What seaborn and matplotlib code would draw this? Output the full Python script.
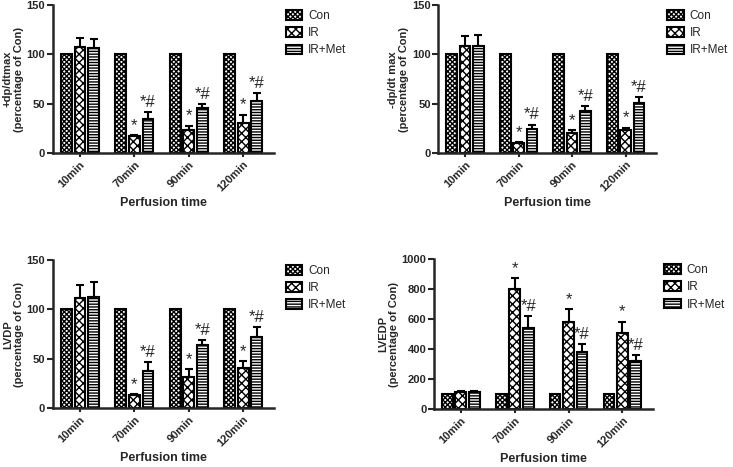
import numpy as np
import pandas as pd
import matplotlib
matplotlib.use("Agg")
import matplotlib.pyplot as plt
import matplotlib.patches as mpatches
import seaborn as sns

# data
times = ["10min", "70min", "90min", "120min"]
groups = ["Con", "IR", "IR+Met"]

dpdt_con = [100, 100, 100, 100]
dpdt_ir = [108, 17, 23, 31]
dpdt_met = [107, 34.5, 45.5, 52.5]
dpdt_ir_err = [9, 1, 5, 8]
dpdt_met_err = [8.5, 7, 4.5, 8.5]

ndpdt_con = [100, 100, 100, 100]
ndpdt_ir = [108.5, 10, 20.5, 23]
ndpdt_met = [108.5, 24, 42.5, 50.5]
ndpdt_ir_err = [10, 1, 2.5, 3]
ndpdt_met_err = [11.5, 5, 5, 6]

lvdp_con = [100, 100, 100, 100]
lvdp_ir = [112, 13.5, 32, 41]
lvdp_met = [113, 37.5, 64, 72.5]
lvdp_ir_err = [13, 1, 7.5, 6.5]
lvdp_met_err = [14.5, 9, 5, 10]

lvedp_con = [100, 100, 100, 100]
lvedp_ir = [114, 802, 584, 505]
lvedp_met = [114, 538, 378, 318]
lvedp_ir_err = [10, 72, 84, 77]
lvedp_met_err = [8, 82, 55, 44]

# significance marks (IR, IR+Met)
marks_ir = ["", "*", "*", "*"]
marks_met = ["", "*#", "*#", "*#"]

sns.set_style("ticks")
plt.rcParams["font.family"] = ["Liberation Sans", "DejaVu Sans"]
plt.rcParams["hatch.linewidth"] = 1.0

hatches = {"Con": "xxxxxxx", "IR": "xxxx", "IR+Met": "------"}

fig = plt.figure(figsize=(7.33, 4.67), dpi=100)
positions = [
    [0.072, 0.672, 0.302, 0.317],
    [0.598, 0.672, 0.297, 0.317],
    [0.072, 0.126, 0.302, 0.317],
    [0.592, 0.124, 0.299, 0.321],
]

panels = [
    ("+dp/dtmax\n(percentage of Con)", dpdt_con, dpdt_ir, dpdt_met, dpdt_ir_err, dpdt_met_err, 150, 50),
    ("-dp/dt max\n(percentage of Con)", ndpdt_con, ndpdt_ir, ndpdt_met, ndpdt_ir_err, ndpdt_met_err, 150, 50),
    ("LVDP\n(percentage of Con)", lvdp_con, lvdp_ir, lvdp_met, lvdp_ir_err, lvdp_met_err, 150, 50),
    ("LVEDP\n(percentage of Con)", lvedp_con, lvedp_ir, lvedp_met, lvedp_ir_err, lvedp_met_err, 1000, 200),
]

for pos, (ylab, con, ir, met, ir_err, met_err, ymax, ystep) in zip(positions, panels):
    ax = fig.add_axes(pos)
    df = pd.DataFrame({
        "time": times * 3,
        "group": ["Con"] * 4 + ["IR"] * 4 + ["IR+Met"] * 4,
        "value": con + ir + met,
    })
    sns.barplot(data=df, x="time", y="value", hue="group", order=times,
                hue_order=groups, errorbar=None, width=0.75, gap=0.2,
                palette=["white"] * 3, edgecolor="black",
                linewidth=1.5, ax=ax, legend=False)

    errs = {"Con": [0] * 4, "IR": ir_err, "IR+Met": met_err}
    vals = {"Con": con, "IR": ir, "IR+Met": met}
    marks = {"Con": [""] * 4, "IR": marks_ir, "IR+Met": marks_met}
    for g, cont in zip(groups, ax.containers):
        for i, bar in enumerate(cont):
            bar.set_hatch(hatches[g])
            xc = bar.get_x() + bar.get_width() / 2
            if errs[g][i] > 0:
                ax.errorbar(xc, vals[g][i], yerr=[[0], [errs[g][i]]],
                            color="black", capsize=3, elinewidth=1.5,
                            capthick=1.5)
            if marks[g][i]:
                ax.text(xc, vals[g][i] + errs[g][i] + ymax * 0.015,
                        marks[g][i], ha="center", va="bottom", fontsize=12)

    ax.set_xlim(-0.5, 3.57)
    ax.set_ylim(0, ymax)
    ax.set_yticks(np.arange(0, ymax + 1, ystep))
    ax.set_xlabel("Perfusion time", fontsize=9, fontweight="bold", labelpad=2)
    ax.set_ylabel(ylab, fontsize=8, fontweight="bold", labelpad=2,
                  linespacing=1.1)
    ax.set_xticks(range(4))
    ax.set_xticklabels(times, rotation=45, ha="right", rotation_mode="anchor",
                       fontsize=8, fontweight="bold")
    for lbl in ax.get_yticklabels():
        lbl.set_fontweight("bold")
        lbl.set_fontsize(8)
    ax.tick_params(axis="both", width=1.5, length=4, pad=1.5)
    ax.tick_params(axis="x", length=3)
    for s in ["left", "bottom"]:
        ax.spines[s].set_linewidth(1.8)
    sns.despine(ax=ax)

    handles = [mpatches.Patch(facecolor="white", edgecolor="black",
                              hatch=hatches[g], linewidth=1.5, label=g)
               for g in groups]
    ax.legend(handles=handles, loc="upper left", bbox_to_anchor=(1.03, 1.0),
              frameon=False, fontsize=8.5, handlelength=1.4, handleheight=0.9,
              handletextpad=0.5, labelspacing=0.45, borderaxespad=0)

fig.savefig("out.png", dpi=100)
